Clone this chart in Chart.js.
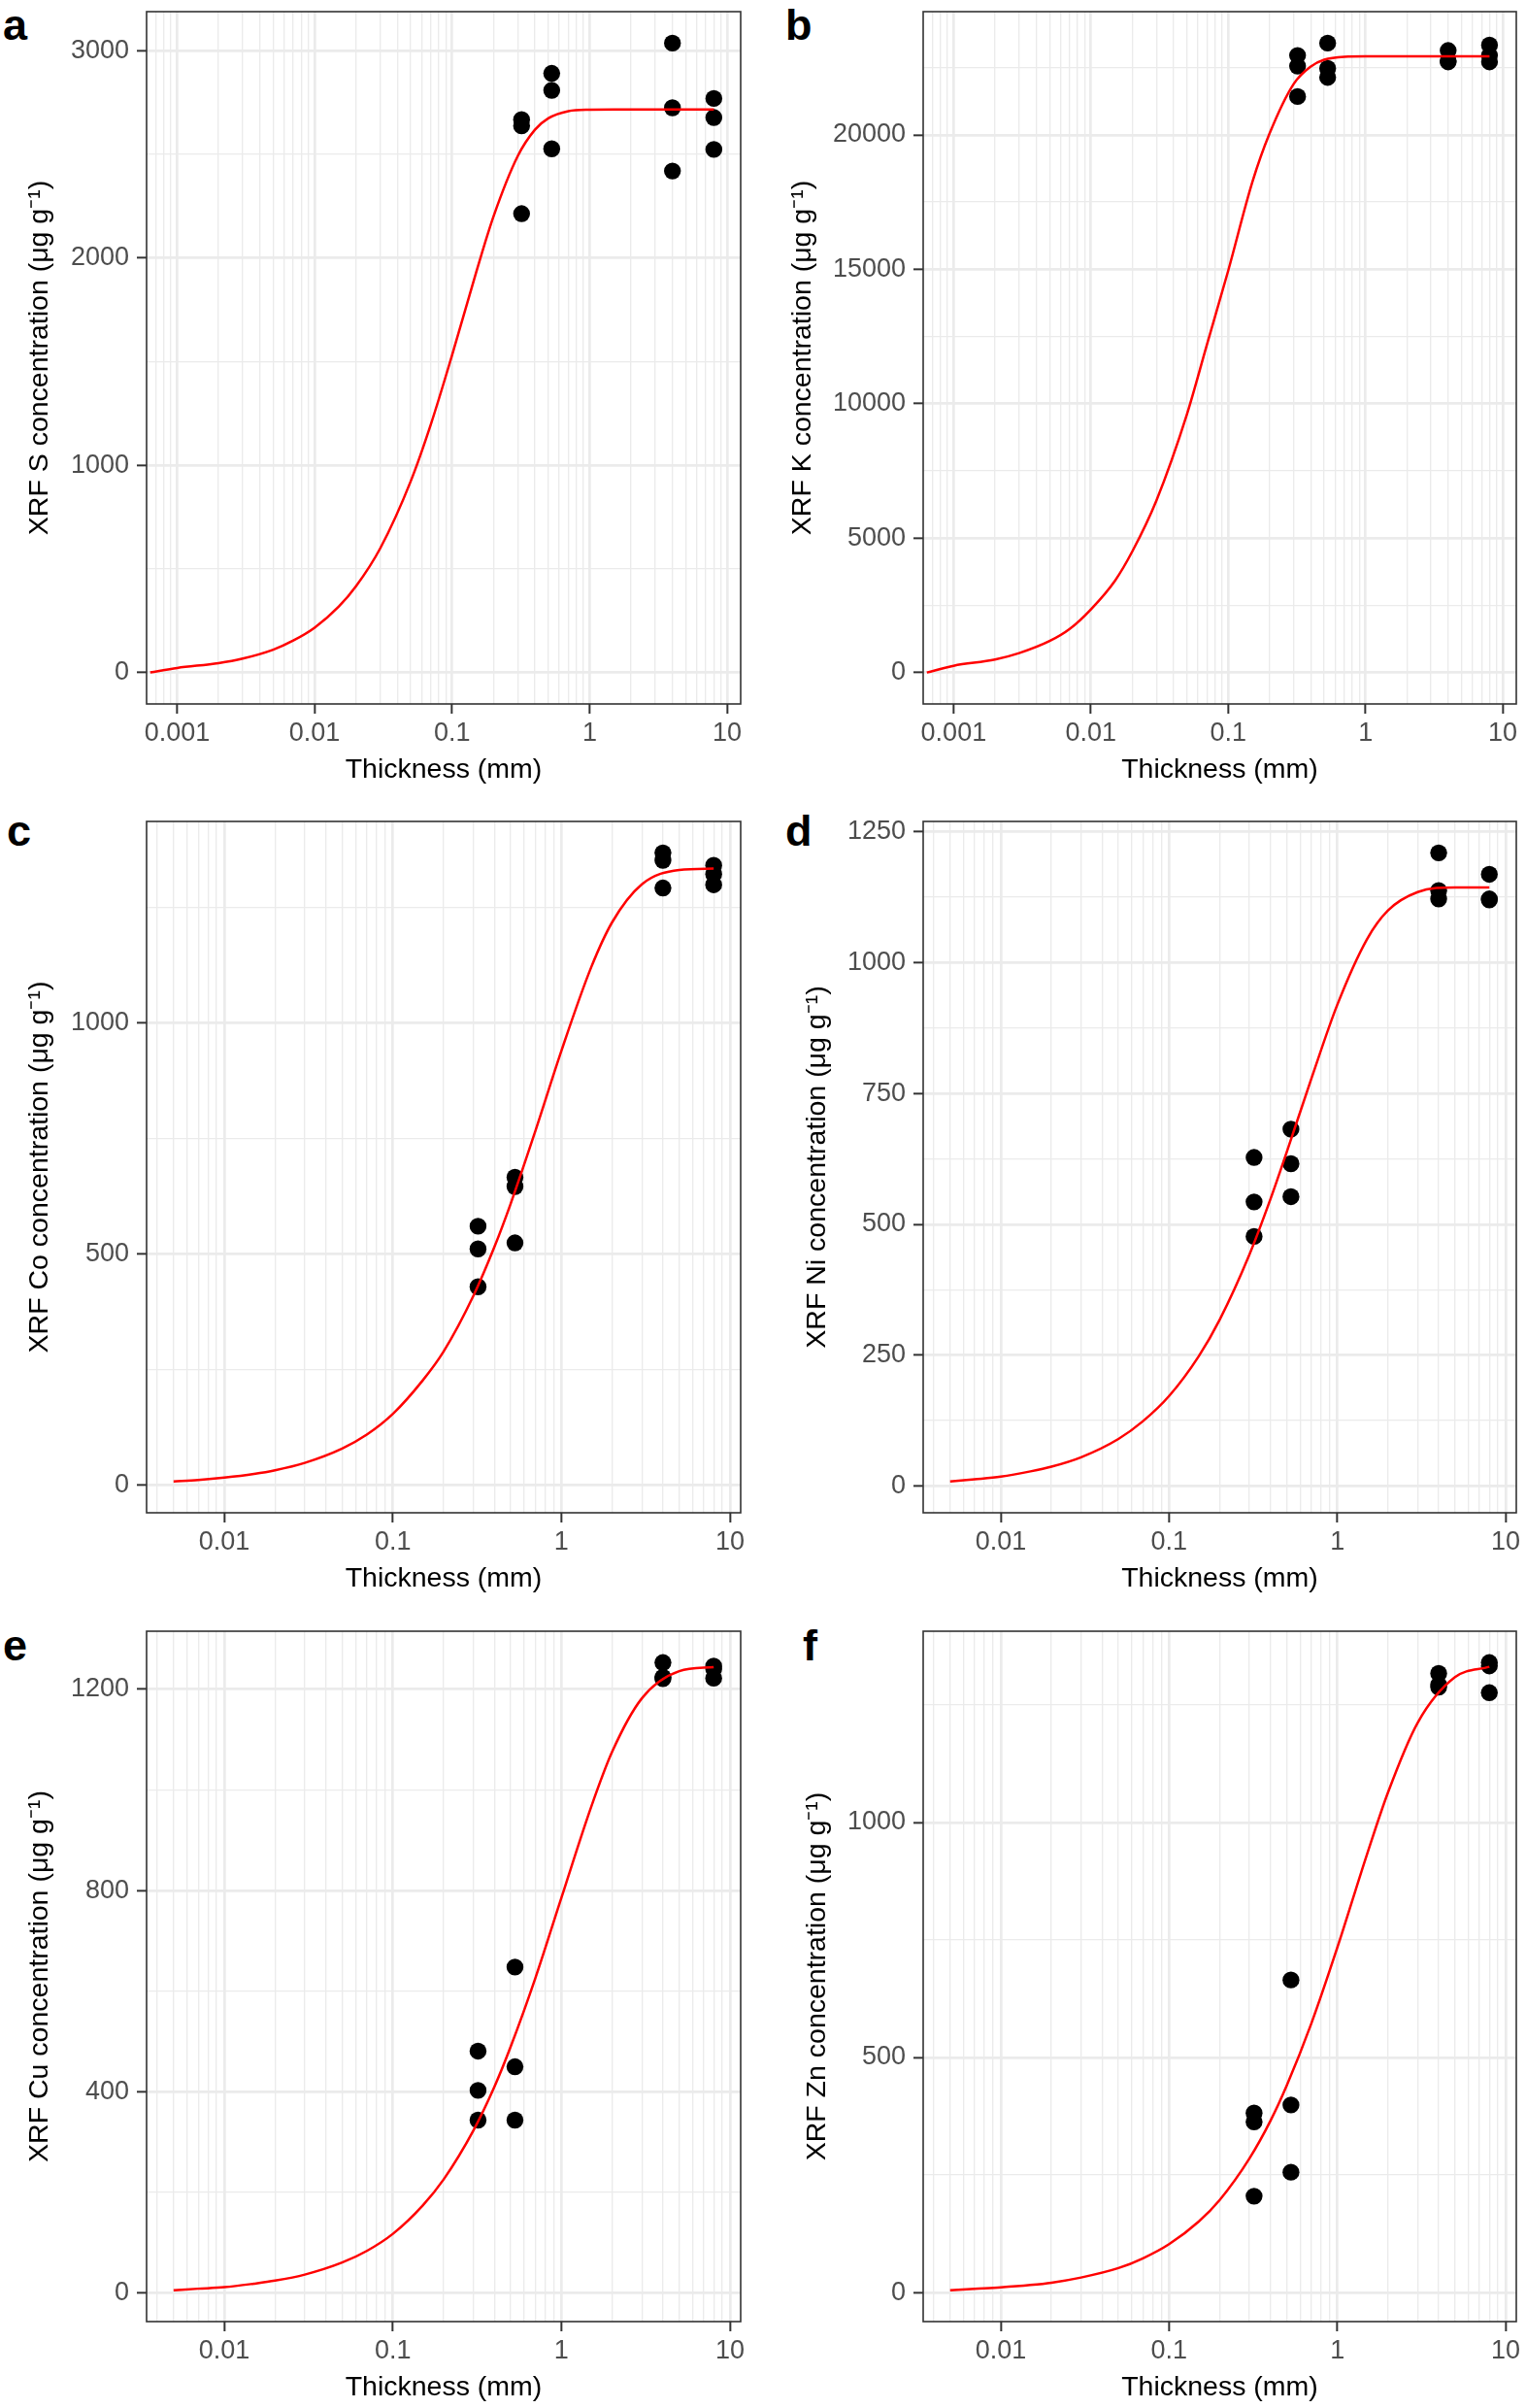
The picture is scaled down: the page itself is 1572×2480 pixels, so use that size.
<!DOCTYPE html>
<html>
<head>
<meta charset="utf-8">
<script src="https://cdn.jsdelivr.net/npm/chart.js@4.4.1/dist/chart.umd.min.js"></script>
<style>
  body { margin: 0; background: #fff; }
  #wrap { position: relative; width: 1572px; height: 2480px; background: #fff; }
  canvas { position: absolute; }
  .lab { position: absolute; font: bold 45px "Liberation Sans", Arial, sans-serif; line-height: 45px; color: #000; }
</style>
</head>
<body>
<div id="wrap">
  <div class="lab" style="left:3px;top:3px">a</div>
  <div class="lab" style="left:809px;top:3px">b</div>
  <div class="lab" style="left:7px;top:833px">c</div>
  <div class="lab" style="left:809px;top:833px">d</div>
  <div class="lab" style="left:3px;top:1672px">e</div>
  <div class="lab" style="left:827px;top:1672px">f</div>
</div>
<script>
// measured thickness of the samples (mm), three replicates each
const pointThickness = [0.32, 0.32, 0.32, 0.53, 0.53, 0.53, 4, 4, 4, 8, 8, 8];

const sPoints  = [2668, 2638, 2214, 2891, 2809, 2527, 3037, 2725, 2420, 2770, 2678, 2524];
const kPoints  = [22958, 22560, 21430, 23416, 22477, 22141, 23140, 22760, 22720, 23344, 22958, 22719];
const coPoints = [560, 511, 429, 666, 646, 524, 1368, 1352, 1292, 1341, 1322, 1299];
const niPoints = [628, 543, 477, 682, 616, 553, 1210, 1138, 1122, 1169, 1122, 1120];
const cuPoints = [481, 403, 344, 648, 450, 344, 1253, 1224, 1221, 1246, 1240, 1222];
const znPoints = [382, 363, 205, 665, 399, 256, 1317, 1293, 1288, 1340, 1333, 1276];

// fitted curves
const curveThicknessAB = [0, 0.001, 0.002, 0.003, 0.005, 0.007, 0.01, 0.015, 0.02, 0.03, 0.05, 0.07,
  0.1, 0.15, 0.2, 0.3, 0.4, 0.5, 0.7, 1, 1.5, 2, 3, 5, 8];
const curveThicknessCF = [0.005, 0.007, 0.01, 0.015, 0.02, 0.03, 0.05, 0.07,
  0.1, 0.15, 0.2, 0.3, 0.4, 0.5, 0.7, 1, 1.5, 2, 3, 5, 8];

const sCurve  = [0, 22, 45, 67, 110, 154, 216, 318, 416, 599, 923, 1197,
  1532, 1934, 2201, 2492, 2619, 2674, 2709, 2716, 2717, 2717, 2717, 2717, 2717];
const kCurve  = [0, 250, 480, 720, 1170, 1620, 2350, 3420, 4500, 6400, 9600, 12200,
  14950, 18250, 20050, 21900, 22550, 22800, 22910, 22925, 22925, 22925, 22925, 22925, 22925];
const coCurve = [8, 11, 16, 24, 32, 48, 79, 109, 154, 226, 289, 409, 515, 609, 766, 940, 1120, 1218, 1300, 1331, 1334];
const niCurve = [9, 13, 18, 28, 37, 55, 90, 124, 172, 248, 318, 442, 548, 638, 778, 920, 1045, 1100, 1135, 1144, 1144];
const cuCurve = [6, 9, 12, 19, 25, 37, 61, 84, 118, 174, 226, 323, 410, 490, 626, 786, 966, 1076, 1182, 1236, 1244];
const znCurve = [5, 8, 11, 16, 21, 32, 52, 73, 103, 151, 197, 285, 365, 440, 572, 734, 932, 1064, 1212, 1309, 1331];

const xTickLabels = ['0.001', '0.01', '0.1', '1', '10'];

const panels = [
  { el: 'S',  pts: sPoints,  cx: curveThicknessAB, cy: sCurve,  step: 1000, row: 0, col: 0, yTitleX: 41 },
  { el: 'K',  pts: kPoints,  cx: curveThicknessAB, cy: kCurve,  step: 5000, row: 0, col: 1, yTitleX: 41 },
  { el: 'Co', pts: coPoints, cx: curveThicknessCF, cy: coCurve, step: 500,  row: 1, col: 0, yTitleX: 41 },
  { el: 'Ni', pts: niPoints, cx: curveThicknessCF, cy: niCurve, step: 250,  row: 1, col: 1, yTitleX: 56 },
  { el: 'Cu', pts: cuPoints, cx: curveThicknessCF, cy: cuCurve, step: 400,  row: 2, col: 0, yTitleX: 41 },
  { el: 'Zn', pts: znPoints, cx: curveThicknessCF, cy: znCurve, step: 500,  row: 2, col: 1, yTitleX: 56 }
];

const rowTop = [0, 830, 1660];
const rowH = [830, 830, 820];
const plotTop = [12, 16, 20];
const plotBottom = [725, 728, 731];
const colLeft = [0, 786];
const yAxisW = [151, 165];
const padRight = [23, 10];

const FONT = '"Liberation Sans", Arial, sans-serif';
const tickFont = { family: FONT, size: 27 };
const titleFont = { family: FONT, size: 28.5, lineHeight: 1.2 };

const panelBorder = {
  id: 'panelBorder',
  afterDatasetsDraw(chart) {
    const { ctx, chartArea: a } = chart;
    ctx.save();
    ctx.strokeStyle = '#333333';
    ctx.lineWidth = 1.6;
    ctx.strokeRect(a.left, a.top, a.right - a.left, a.bottom - a.top);
    ctx.restore();
  }
};

const isPow10 = v => Math.abs(Math.log10(v) - Math.round(Math.log10(v))) < 1e-9;

panels.forEach(p => {
  const canvas = document.createElement('canvas');
  const w = 786, h = rowH[p.row];
  canvas.width = w; canvas.height = h;
  canvas.style.left = colLeft[p.col] + 'px';
  canvas.style.top = rowTop[p.row] + 'px';
  document.getElementById('wrap').appendChild(canvas);

  // axis ranges: 5% expansion like ggplot
  const xs = p.cx.concat(pointThickness).filter(v => v > 0).map(Math.log10);
  const lx0 = Math.min(...xs), lx1 = Math.max(...xs);
  const ex = (lx1 - lx0) * 0.05;
  const xMin = Math.pow(10, lx0 - ex), xMax = Math.pow(10, lx1 + ex);
  const ys = p.cy.concat(p.pts);
  const y0 = Math.min(...ys), y1 = Math.max(...ys);
  const ey = (y1 - y0) * 0.05;
  const yMin = y0 - ey, yMax = y1 + ey;

  const curve = p.cx.map((x, i) => ({ x: x === 0 ? xMin : x, y: p.cy[i] }));
  const dots = pointThickness.map((x, i) => ({ x: x, y: p.pts[i] }));

  const xHeight = h - plotBottom[p.row];
  const titleCenterY = plotBottom[p.row] + 68.5;
  const xTitlePad = h - titleCenterY - titleFont.size * 0.6;
  const yTitlePad = p.yTitleX - titleFont.size * 0.6;

  new Chart(canvas, {
    type: 'scatter',
    data: {
      datasets: [
        {
          type: 'line',
          data: curve,
          borderColor: '#FF0000',
          borderWidth: 2.5,
          pointRadius: 0,
          fill: false,
          cubicInterpolationMode: 'monotone'
        },
        {
          type: 'scatter',
          data: dots,
          backgroundColor: '#000000',
          borderWidth: 0,
          pointRadius: 8.7
        }
      ]
    },
    options: {
      responsive: false,
      animation: false,
      devicePixelRatio: 1,
      layout: { padding: { left: 0, top: plotTop[p.row], right: padRight[p.col], bottom: 0 } },
      plugins: { legend: { display: false }, tooltip: { enabled: false } },
      scales: {
        x: {
          type: 'logarithmic',
          min: xMin,
          max: xMax,
          afterBuildTicks: s => {
            const t = [];
            for (let k = Math.floor(Math.log10(xMin)); k <= Math.ceil(Math.log10(xMax)); k++) {
              for (let m = 1; m <= 9; m++) {
                const v = parseFloat((m * Math.pow(10, k)).toPrecision(6));
                if (v >= xMin && v <= xMax) t.push({ value: v });
              }
            }
            s.ticks = t;
          },
          afterFit: s => {
            s.height = xHeight;
            s.paddingLeft = 0; s.paddingRight = 0;
          },
          border: { display: false },
          grid: {
            color: '#EBEBEB',
            lineWidth: c => (c.tick && isPow10(c.tick.value)) ? 2.7 : 1.35,
            tickColor: c => (c.tick && isPow10(c.tick.value)) ? '#333333' : 'rgba(0,0,0,0)',
            tickWidth: 2,
            tickLength: 10
          },
          ticks: {
            autoSkip: false,
            maxRotation: 0,
            padding: 4,
            color: '#4D4D4D',
            font: tickFont,
            callback: v => {
              if (!isPow10(v)) return '';
              const lbl = xTickLabels.find(s => Math.abs(parseFloat(s) - v) < 1e-12);
              return lbl || String(v);
            }
          },
          title: {
            display: true,
            text: 'Thickness (mm)',
            color: '#000000',
            font: titleFont,
            padding: { top: 0, bottom: xTitlePad }
          }
        },
        y: {
          type: 'linear',
          min: yMin,
          max: yMax,
          afterBuildTicks: s => {
            const half = p.step / 2;
            const t = [];
            for (let v = Math.ceil(yMin / half) * half; v <= yMax; v += half) t.push({ value: v });
            s.ticks = t;
          },
          afterFit: s => {
            s.width = yAxisW[p.col];
            s.paddingTop = 0; s.paddingBottom = 0;
          },
          border: { display: false },
          grid: {
            color: '#EBEBEB',
            lineWidth: c => (c.tick && c.tick.value % p.step === 0) ? 2.7 : 1.35,
            tickColor: c => (c.tick && c.tick.value % p.step === 0) ? '#333333' : 'rgba(0,0,0,0)',
            tickWidth: 2,
            tickLength: 10
          },
          ticks: {
            autoSkip: false,
            padding: 8,
            color: '#4D4D4D',
            font: tickFont,
            callback: v => (v % p.step === 0) ? String(v) : ''
          },
          title: {
            display: true,
            text: 'XRF ' + p.el + ' concentration (\u03BCg g\u207B\u00B9)',
            color: '#000000',
            font: titleFont,
            padding: { top: yTitlePad, bottom: 0 }
          }
        }
      }
    },
    plugins: [panelBorder]
  });
});
</script>
</body>
</html>
